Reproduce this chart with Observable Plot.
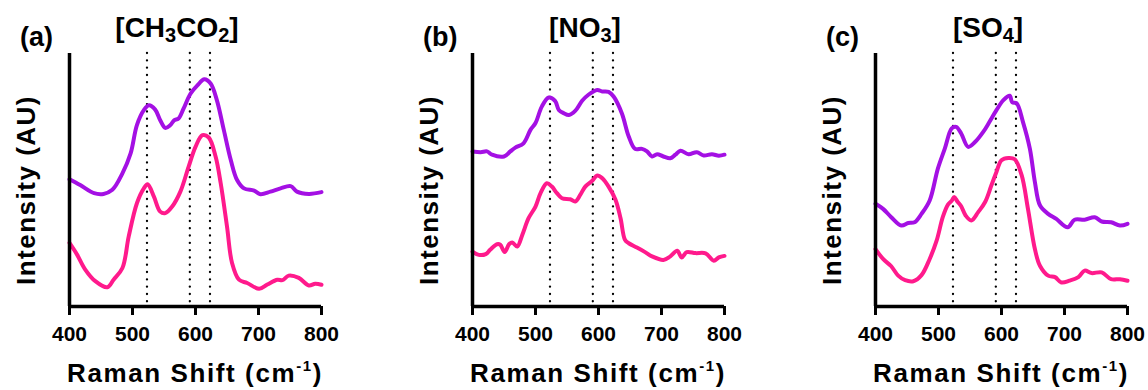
<!DOCTYPE html>
<html>
<head>
<meta charset="utf-8">
<script src="https://cdn.jsdelivr.net/npm/d3@7"></script>
<script src="https://cdn.jsdelivr.net/npm/@observablehq/plot@0.6"></script>
<style>
  body { margin: 0; background: #fff; }
  #fig { position: relative; width: 1148px; height: 390px; overflow: hidden; font-family: "Liberation Sans", Arial, sans-serif; }
  #fig svg { position: absolute; top: 0; }
</style>
</head>
<body>
<div id="fig"></div>
<script>
// Raman spectra (arbitrary intensity units) for three anions; each panel has an
// upper (purple) and lower (pink) trace as [Raman shift in cm^-1, intensity].
const acetateUpper = [[400,50.3],[417,48],[439,44.8],[454,44.5],[468,46.1],[484,52.6],[497,60.5],[507,71.7],[518,77.6],[526,79.5],[536,77.8],[544,73.6],[552,70.6],[560,71.7],[566,73.6],[573,74.3],[581,78.2],[592,84.1],[603,87.4],[614,89.8],[624,88.1],[634,81.5],[645,69.7],[656,57.9],[666,50],[677,46.7],[693,45.8],[703,44.4],[719,45.4],[735,46.7],[751,47.6],[761,45.4],[780,44.5],[800,45.2]];
const acetateLower = [[400,25.1],[412,20.5],[425,14.6],[441,10],[460,7.6],[470,10.6],[484,15.2],[494,27.7],[507,40.8],[518,46.7],[524,48.3],[534,43.4],[544,37.5],[552,36.9],[563,39.5],[576,45.4],[589,55.2],[600,63.1],[611,67.7],[621,66.8],[632,59.2],[640,48.7],[650,31.6],[658,17.2],[669,10.6],[682,9.3],[701,7],[714,8.7],[730,10.6],[738,10.4],[748,12.2],[764,11.3],[780,8.3],[790,9],[800,8.6]];
const nitrateUpper = [[400,61.3],[413,61],[423,61.3],[431,60],[450,59.3],[460,61.3],[468,62.8],[481,64.5],[492,69.8],[500,72.5],[510,79],[521,82.6],[531,81.3],[537,77.7],[545,76.4],[553,75.7],[563,77.3],[574,81.3],[584,83.7],[598,85.6],[606,85],[616,84.8],[624,83],[637,76.4],[648,67.2],[658,62.3],[669,62.3],[677,61.3],[685,59.3],[693,60.2],[703,59.3],[714,58.6],[722,60],[730,61.6],[743,60.2],[756,61],[767,59.7],[780,60.2],[791,59.6],[800,60]];
const nitrateLower = [[400,21.7],[410,20.4],[421,20.7],[428,22.4],[439,24.6],[444,24.4],[451,21.5],[458,24.6],[463,25.3],[471,23.7],[479,28.3],[489,34.9],[500,39.5],[508,44.8],[518,48.7],[526,47.4],[534,44.8],[542,42.8],[555,42.4],[563,41.5],[571,44.1],[579,47.4],[590,49.7],[598,51.8],[606,50.7],[616,47.4],[627,42.2],[635,34.9],[642,26.4],[648,25],[661,23.3],[674,21.5],[685,19.8],[703,18.4],[714,19.8],[725,22],[732,19.4],[740,21.5],[754,21.1],[770,21],[783,18.1],[791,19.4],[800,20]];
const sulfateUpper = [[400,40.6],[412,38.6],[425,35.3],[441,32],[452,33],[462,33.3],[473,36.6],[486,41.9],[499,54.5],[510,62.4],[521,70.4],[528,71],[536,68.4],[547,63.1],[558,65],[571,69],[581,73],[592,77.6],[603,81.6],[613,83.3],[617,80.7],[624,80.3],[634,73],[645,62.4],[653,49.2],[661,40],[674,36.6],[687,34.6],[705,31.3],[716,34.3],[732,34.3],[748,35.3],[759,33.6],[774,33.3],[788,32],[800,32.7]];
const sulfateLower = [[400,22.7],[412,18.8],[425,15.9],[436,12.2],[447,10.4],[460,10],[473,12.4],[486,18.8],[497,26],[507,35.5],[515,40.3],[521,41.8],[525,43.3],[530,41.5],[536,39.6],[543,36],[552,34],[563,37.3],[574,41.3],[584,47.9],[592,53.2],[600,57.8],[611,58.7],[621,58.2],[632,51.9],[642,38.6],[653,22.7],[661,16.1],[674,12.2],[685,11.6],[695,9.5],[708,10.2],[722,11.6],[732,14.2],[743,13.2],[759,13.5],[774,10.8],[788,10.8],[800,10.2]];

// Reference band positions (cm^-1) marked with dotted lines
const bandPositions = [523, 591, 623];
const xTicks = [400, 500, 600, 700, 800];

// Titles as [text, isSubscript] runs
const panelTitles = [
  [["[CH", false], ["3", true], ["CO", false], ["2", true], ["]", false]],
  [["[NO", false], ["3", true], ["]", false]],
  [["[SO", false], ["4", true], ["]", false]]
];
const panelLetters = ["(a)", "(b)", "(c)"];

const upperColor = "#a410e4";
const lowerColor = "#ff1a8c";
const FONT = "'Liberation Sans', Arial, Helvetica, sans-serif";

const panels = [
  { upper: acetateUpper, lower: acetateLower, left: 0,   titleX: 177 },
  { upper: nitrateUpper, lower: nitrateLower, left: 403, titleX: 182 },
  { upper: sulfateUpper, lower: sulfateLower, left: 806, titleX: 182 }
];

const fig = document.getElementById("fig");
const ML = 69, MT = 53, W = 340, H = 390, MB = 84, MR = 19;

panels.forEach((p, i) => {
  const toRows = arr => arr.map(([x, y]) => ({ x, y }));
  const svg = Plot.plot({
    width: W, height: H,
    marginLeft: ML, marginRight: MR, marginTop: MT, marginBottom: MB,
    x: { domain: [400, 800] },
    y: { domain: [0, 100], axis: null },
    style: { fontFamily: FONT, color: "#000", background: "transparent", overflow: "visible" },
    marks: [
      Plot.ruleX(bandPositions, { stroke: "#000", strokeWidth: 2.3, strokeDasharray: "0.1,7.2", strokeLinecap: "round" }),
      Plot.line(toRows(p.upper), { x: "x", y: "y", stroke: upperColor, strokeWidth: 4, curve: "catmull-rom" }),
      Plot.line(toRows(p.lower), { x: "x", y: "y", stroke: lowerColor, strokeWidth: 4, curve: "catmull-rom" }),
      Plot.axisX({ ticks: xTicks, tickSize: 9, tickPadding: 11, strokeWidth: 3, fontSize: 21, fontWeight: "bold", label: null }),
      Plot.ruleY([0], { stroke: "#000", strokeWidth: 3.5 }),
      Plot.ruleX([400], { stroke: "#000", strokeWidth: 3.5 })
    ]
  });
  svg.style.left = p.left + "px";
  fig.appendChild(svg);

  const s = d3.select(svg);

  // panel letter
  s.append("text")
    .attr("x", 20).attr("y", 46)
    .attr("text-anchor", "start")
    .attr("font-family", FONT).attr("font-size", 27).attr("font-weight", "bold")
    .attr("fill", "#000")
    .text(panelLetters[i]);

  // anion title with subscripts
  const t = s.append("text")
    .attr("x", p.titleX).attr("y", 37)
    .attr("text-anchor", "middle")
    .attr("font-family", FONT).attr("font-size", 28).attr("font-weight", "bold")
    .attr("fill", "#000");
  let shifted = false;
  panelTitles[i].forEach(([txt, sub]) => {
    const ts = t.append("tspan").text(txt);
    if (sub) { ts.attr("font-size", 20).attr("dy", 5); shifted = true; }
    else if (shifted) { ts.attr("dy", -5); shifted = false; }
  });

  // y-axis title
  s.append("text")
    .attr("transform", `translate(${ML - 43},190) rotate(-90)`)
    .attr("text-anchor", "middle").attr("dy", "0.36em")
    .attr("font-family", FONT).attr("font-size", 26).attr("font-weight", "bold")
    .attr("letter-spacing", "1.5px")
    .attr("fill", "#000")
    .text("Intensity (AU)");

  // x-axis title with superscript
  const xt = s.append("text")
    .attr("x", ML + 126).attr("y", 382)
    .attr("text-anchor", "middle")
    .attr("font-family", FONT).attr("font-size", 26).attr("font-weight", "bold")
    .attr("letter-spacing", "1.6px")
    .attr("fill", "#000");
  xt.append("tspan").text("Raman Shift (cm");
  xt.append("tspan").attr("font-size", 15).attr("dy", -11).text("-1");
  xt.append("tspan").attr("dy", 11).text(")");
});
</script>
</body>
</html>
